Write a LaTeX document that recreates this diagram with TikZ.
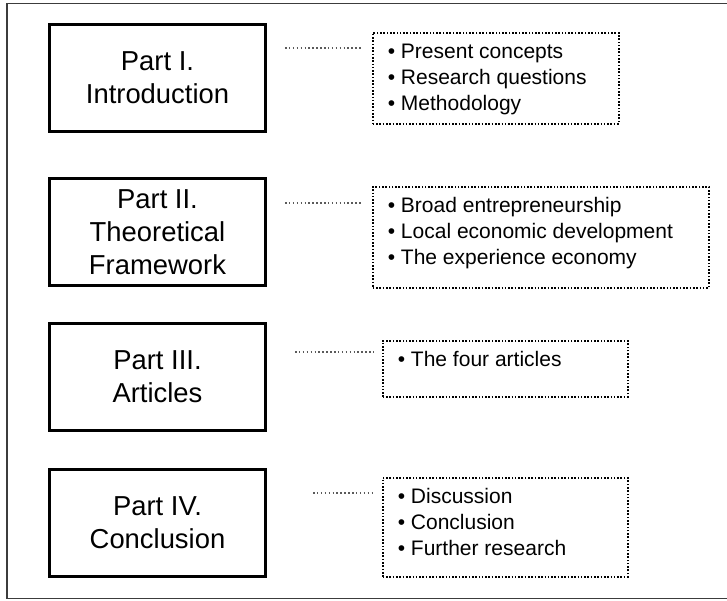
\documentclass[tikz,border=0pt]{standalone}
\usepackage{fontspec}
\setmainfont{Liberation Sans}
\usepackage{xcolor}
\usepackage{tikz}
\usetikzlibrary{positioning}
\definecolor{framegray}{RGB}{60, 60, 60}
\definecolor{leadergray}{RGB}{90, 90, 90}

\tikzset{
    partbox/.style={draw=black, line width=1.5pt, minimum width=108pt, minimum height=53.5pt,
        align=center, inner sep=0pt, font=\fontsize{13.7pt}{16.4pt}\selectfont},
    notebox/.style={draw=black, line width=0.8pt, dash pattern=on 0.8pt off 0.85pt,
        anchor=north west, inner xsep=7.5pt, inner ysep=3.6pt,
        font=\fontsize{10.5pt}{13pt}\selectfont},
    leader/.style={draw=leadergray, line width=0.75pt, dash pattern=on 0.75pt off 1.2pt}
}

\begin{document}
\begin{tikzpicture}[x=0.5pt, y=-0.5pt]
        \useasboundingbox (0,0) rectangle (727,600);
        % Outer frame
        \draw[framegray, line width=0.6pt] (730,3.5) -- (7,3.5) -- (7,598.5) -- (730,598.5);

        % Parts of the thesis
        \node[partbox] (p1) at (157.5,78) {Part I.\\Introduction};
        \node[partbox] (p2) at (157.5,232) {Part II.\\Theoretical\\Framework};
        \node[partbox] (p3) at (157.5,377) {Part III.\\Articles};
        \node[partbox] (p4) at (157.5,522.5) {Part IV.\\Conclusion};

        % Contents of each part
        \node[notebox] (c1) at (372,32) {\parbox[c][38.3pt][t]{108pt}{\raggedright\strut
            \textbullet\ Present concepts\\ \textbullet\ Research questions\\ \textbullet\ Methodology}};
        \node[notebox] (c2) at (372,186) {\parbox[c][43.3pt][t]{153pt}{\raggedright\strut
            \textbullet\ Broad entrepreneurship\\ \textbullet\ Local economic development\\ \textbullet\ The experience economy}};
        \node[notebox] (c3) at (382,340) {\parbox[c][20.8pt][t]{107.5pt}{\raggedright\strut
            \textbullet\ The four articles}};
        \node[notebox] (c4) at (382,477) {\parbox[c][42.3pt][t]{107.5pt}{\raggedright\strut
            \textbullet\ Discussion\\ \textbullet\ Conclusion\\ \textbullet\ Further research}};

        % Leader lines
        \coordinate (l1a) at (285,48);  \coordinate (l1b) at (362,48);
        \coordinate (l2a) at (285,203); \coordinate (l2b) at (362,203);
        \coordinate (l3a) at (295,352); \coordinate (l3b) at (374,352);
        \coordinate (l4a) at (313,493); \coordinate (l4b) at (374,493);
        \draw[leader] (l1a) -- (l1b);
        \draw[leader] (l2a) -- (l2b);
        \draw[leader] (l3a) -- (l3b);
        \draw[leader] (l4a) -- (l4b);
    \end{tikzpicture}
\end{document}
